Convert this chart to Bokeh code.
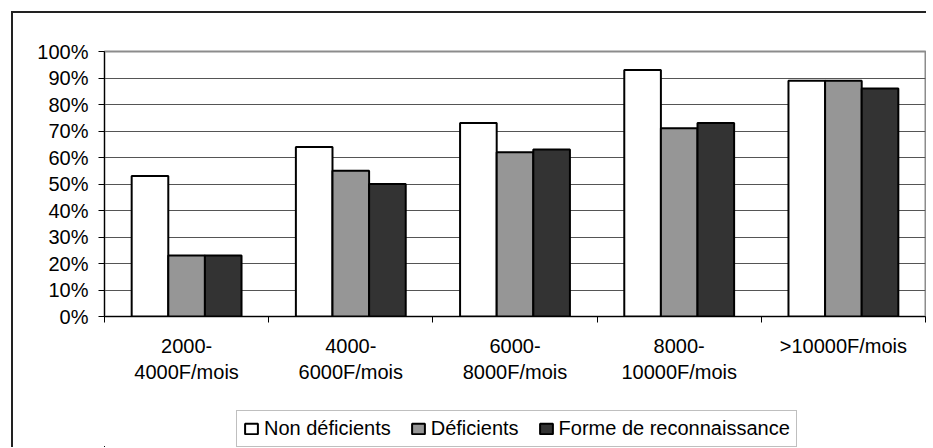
import numpy as np
from bokeh.plotting import figure
from bokeh.layouts import column
from bokeh.models import (ColumnDataSource, FixedTicker, NumeralTickFormatter,
                          Legend, LegendItem, Range1d)
from bokeh.embed import file_html
from bokeh.resources import INLINE

categories = ["2000-\n4000F/mois", "4000-\n6000F/mois", "6000-\n8000F/mois",
              "8000-\n10000F/mois", ">10000F/mois"]
series_names = ["Non déficients", "Déficients", "Forme de reconnaissance"]
non_deficients = [0.53, 0.64, 0.73, 0.93, 0.89]
deficients = [0.23, 0.55, 0.62, 0.71, 0.89]
reconnaissance = [0.23, 0.50, 0.63, 0.73, 0.86]
y_ticks = [0.0, 0.1, 0.2, 0.3, 0.4, 0.5, 0.6, 0.7, 0.8, 0.9, 1.0]

colors = ["#ffffff", "#969696", "#333333"]
FONT = "Liberation Sans"

centers = np.arange(len(categories)) + 0.5
bar_w = 0.223
offsets = [-bar_w, 0.0, bar_w]

p = figure(width=913, height=395, output_backend="svg", toolbar_location=None,
           x_range=Range1d(0, len(categories)), y_range=Range1d(0, 1),
           min_border_left=91, min_border_right=1, min_border_top=38,
           min_border_bottom=92)

sources = []
for vals, off, col in zip([non_deficients, deficients, reconnaissance], offsets, colors):
    src = ColumnDataSource(dict(x=centers + off, top=vals))
    sources.append(src)
    p.vbar(x="x", top="top", width=bar_w, bottom=0, source=src,
           fill_color=col, line_color="black", line_width=2)

# axes
p.xaxis.ticker = FixedTicker(ticks=list(centers),
                             minor_ticks=list(range(len(categories) + 1)))
p.xaxis.major_label_overrides = {float(c): lab for c, lab in zip(centers, categories)}
p.xaxis.major_tick_line_color = None
p.xaxis.minor_tick_line_color = "black"
p.xaxis.minor_tick_out = 6
p.xaxis.minor_tick_in = 0
p.xaxis.axis_line_color = "black"
p.xaxis.axis_line_width = 1
p.xaxis.major_label_standoff = 12
p.xaxis.major_label_text_font = FONT
p.xaxis.major_label_text_font_size = "20px"
p.xaxis.major_label_text_color = "black"

p.yaxis.ticker = FixedTicker(ticks=y_ticks)
p.yaxis.formatter = NumeralTickFormatter(format="0%")
p.yaxis.major_tick_out = 6
p.yaxis.major_tick_in = 0
p.yaxis.minor_tick_line_color = None
p.yaxis.major_tick_line_color = "black"
p.yaxis.axis_line_color = "black"
p.yaxis.major_label_standoff = 10
p.yaxis.major_label_text_font = FONT
p.yaxis.major_label_text_font_size = "20px"
p.yaxis.major_label_text_color = "black"

p.xgrid.grid_line_color = None
p.ygrid.ticker = FixedTicker(ticks=y_ticks)
p.ygrid.grid_line_color = "#555555"
p.ygrid.grid_line_width = 1
p.ygrid.level = "underlay"

p.outline_line_color = "#8c8c8c"
p.outline_line_width = 2
p.background_fill_color = "white"
p.border_fill_color = "white"

# legend strip: same series, ranged far away so only the legend swatches show
lf = figure(width=913, height=39, output_backend="svg", toolbar_location=None,
            x_range=Range1d(1000, 1005), y_range=Range1d(50, 51),
            x_axis_location=None, y_axis_location=None,
            min_border_left=91, min_border_right=1, min_border_top=0, min_border_bottom=0)
lf.grid.visible = False
lf.outline_line_color = None
lf.background_fill_color = "white"
lf.border_fill_color = "white"
leg_renderers = []
for src, col in zip(sources, colors):
    r = lf.vbar(x="x", top="top", width=bar_w, bottom=0, source=src,
                fill_color=col, line_color="black", line_width=2)
    leg_renderers.append(r)

legend = Legend(items=[LegendItem(label=n, renderers=[r]) for n, r in zip(series_names, leg_renderers)],
                orientation="horizontal", location=(132, 0))
legend.label_text_font = FONT
legend.label_text_font_size = "20px"
legend.label_text_color = "black"
legend.glyph_width = 16
legend.glyph_height = 13
legend.label_standoff = 5
legend.spacing = 19
legend.padding = 6
legend.margin = 0
legend.border_line_color = "#808080"
legend.border_line_width = 1
legend.background_fill_color = "white"
legend.background_fill_alpha = 1
lf.add_layout(legend, "center")

layout = column(p, lf, spacing=0)
layout.styles = {"margin-left": "11px", "margin-top": "11px",
                 "border-left": "2px solid #222222", "border-top": "2px solid #222222"}

open("out.html", "w").write(file_html(layout, INLINE))
